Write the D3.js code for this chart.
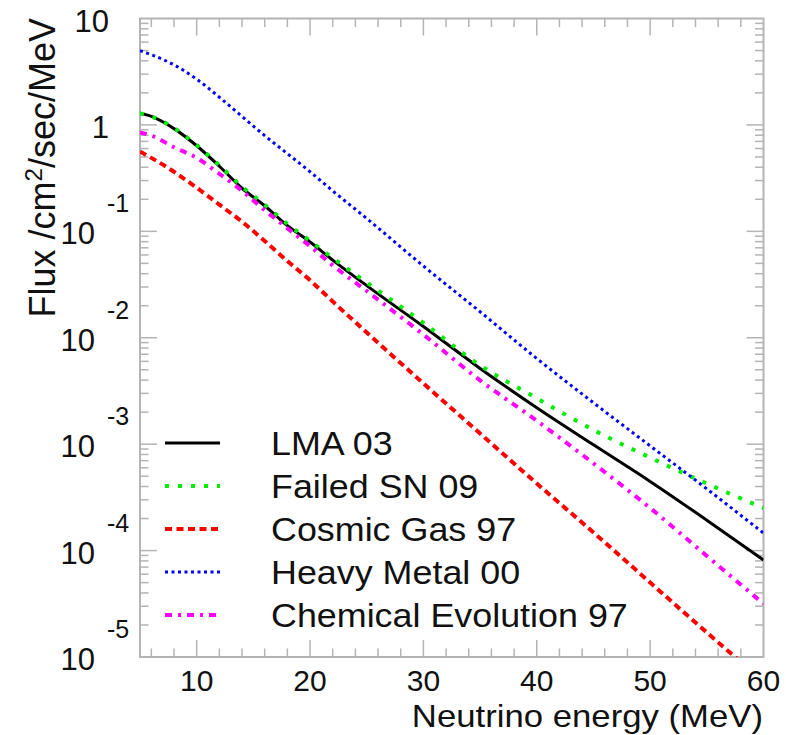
<!DOCTYPE html>
<html>
<head>
<meta charset="utf-8">
<script src="https://cdn.jsdelivr.net/npm/d3@7"></script>
<style>
  body { margin: 0; background: #fff; }
  svg { display: block; }
  text { font-family: "Liberation Sans", Arial, sans-serif; fill: #111; }
</style>
</head>
<body>
<div id="chart"></div>
<script>
// neutrino energy grid (MeV) and fluxes (/cm2/sec/MeV)
const energies = [5, 6, 8, 10, 12, 14, 16, 18, 20, 22, 25, 30, 35, 40, 45, 50, 55, 60];
const lma03 = [1.285, 1.202, 0.923, 0.637, 0.409, 0.254, 0.174, 0.113, 0.0794, 0.0537, 0.0309, 0.01276,
    0.00515, 0.00220, 0.000986, 0.000447, 0.000193, 0.0000815];
const failedSN09 = [1.285, 1.202, 0.933, 0.646, 0.417, 0.263, 0.178, 0.1175, 0.0813, 0.0562, 0.0331, 0.0138,
    0.00550, 0.00270, 0.00136, 0.000748, 0.000426, 0.000251];
const cosmicGas97 = [0.562, 0.490, 0.363, 0.257, 0.178, 0.123, 0.0813, 0.0525, 0.0347, 0.0219, 0.0112, 0.00372,
    0.00126, 0.000427, 0.000148, 0.0000501, 0.0000170, 0.0000059];
const heavyMetal00 = [4.98, 4.57, 3.67, 2.69, 1.82, 1.20, 0.794, 0.537, 0.363, 0.240, 0.132, 0.0472,
    0.01754, 0.00638, 0.00245, 0.000964, 0.000380, 0.000146];
const chemEvol97 = [0.851, 0.794, 0.617, 0.490, 0.347, 0.240, 0.158, 0.107, 0.0724, 0.0479, 0.0275, 0.0107,
    0.00398, 0.00166, 0.00066, 0.000251, 0.0000891, 0.0000316];

const seriesNames = ["LMA 03", "Failed SN 09", "Cosmic Gas 97", "Heavy Metal 00", "Chemical Evolution 97"];
const seriesValues = [lma03, failedSN09, cosmicGas97, heavyMetal00, chemEvol97];

const xTicks = [10, 20, 30, 40, 50, 60];
const yTickExps = [1, 0, -1, -2, -3, -4, -5];

// line styles (ROOT-like)
const styles = [
    {color: "#000000", width: 3, dash: null},
    {color: "#00ee00", width: 4, dash: "4,9"},
    {color: "#ff0000", width: 4, dash: "7,4.5"},
    {color: "#0000ff", width: 3, dash: "3,3.5"},
    {color: "#ff00ff", width: 4, dash: "7,6,3,6"}
];

const W = 786, H = 735;
const frame = {left: 140, top: 18.5, right: 763.5, bottom: 657};

const svg = d3.select("#chart").append("svg")
    .attr("width", W)
    .attr("height", H);

const x = d3.scaleLinear().domain([5, 60]).range([frame.left, frame.right]);
const y = d3.scaleLog().domain([1e-5, 10]).range([frame.bottom, frame.top]);

// clip for curves
svg.append("clipPath").attr("id", "clip")
    .append("rect")
    .attr("x", frame.left).attr("y", frame.top)
    .attr("width", frame.right - frame.left)
    .attr("height", frame.bottom - frame.top);

const axisColor = "#b4b4b4";

// ticks
const ticks = svg.append("g").attr("stroke", axisColor).attr("stroke-width", 1.5);
let xMinor = d3.range(6, 60, 2);
xMinor.forEach(v => {
    let major = v % 10 === 0;
    let len = major ? 17 : 8.5;
    ticks.append("line").attr("x1", x(v)).attr("x2", x(v))
        .attr("y1", frame.bottom).attr("y2", frame.bottom - len);
    ticks.append("line").attr("x1", x(v)).attr("x2", x(v))
        .attr("y1", frame.top).attr("y2", frame.top + len);
});
for (let e = -5; e <= 0; e++) {
    for (let m = 1; m <= 9; m++) {
        let v = m * Math.pow(10, e);
        let len = m === 1 ? 17 : 8.5;
        if (m === 1 && e === -5) continue;
        ticks.append("line").attr("x1", frame.left).attr("x2", frame.left + len)
            .attr("y1", y(v)).attr("y2", y(v));
        ticks.append("line").attr("x1", frame.right).attr("x2", frame.right - len)
            .attr("y1", y(v)).attr("y2", y(v));
    }
}

// frame
svg.append("rect")
    .attr("x", frame.left).attr("y", frame.top)
    .attr("width", frame.right - frame.left)
    .attr("height", frame.bottom - frame.top)
    .attr("fill", "none")
    .attr("stroke", axisColor)
    .attr("stroke-width", 2);

// curves
const line = d3.line()
    .x(d => x(d[0]))
    .y(d => y(d[1]))
    .curve(d3.curveMonotoneX);

const curves = svg.append("g").attr("clip-path", "url(#clip)");
seriesValues.forEach((vals, i) => {
    let pts = energies.map((e, j) => [e, vals[j]]);
    curves.append("path")
        .attr("d", line(pts))
        .attr("fill", "none")
        .attr("stroke", styles[i].color)
        .attr("stroke-width", styles[i].width)
        .attr("stroke-dasharray", styles[i].dash);
});

// x tick labels
svg.append("g").selectAll("text")
    .data(xTicks)
    .join("text")
    .attr("x", d => x(d))
    .attr("y", 691)
    .attr("text-anchor", "middle")
    .attr("font-size", 30)
    .text(d => d);

// y tick labels: 10, 1, 10^-1 ...
const yl = svg.append("g");
yTickExps.forEach(e => {
    let ty = y(Math.pow(10, e));
    if (e === 1) {
        yl.append("text").attr("x", 109).attr("y", ty + 13)
            .attr("text-anchor", "end").attr("font-size", 31).text("10");
    } else if (e === 0) {
        yl.append("text").attr("x", 109).attr("y", ty + 13)
            .attr("text-anchor", "end").attr("font-size", 31).text("1");
    } else {
        yl.append("text").attr("x", 95).attr("y", ty + 13)
            .attr("text-anchor", "end").attr("font-size", 31).text("10");
        yl.append("text").attr("x", 107).attr("y", ty - 19)
            .attr("text-anchor", "start").attr("font-size", 25).text(String(e));
    }
});

// axis titles
svg.append("text")
    .attr("transform", "translate(763,727) scale(1.12,1)")
    .attr("text-anchor", "end")
    .attr("font-size", 31)
    .text("Neutrino energy (MeV)");

const yTitle = svg.append("text")
    .attr("transform", "translate(55,18) rotate(-90)")
    .attr("text-anchor", "end")
    .attr("font-size", 36);
yTitle.append("tspan").text("Flux /cm");
yTitle.append("tspan").attr("dy", -13).attr("font-size", 24).text("2");
yTitle.append("tspan").attr("dy", 13).text("/sec/MeV");

// legend
const legend = svg.append("g");
const rowY = [443, 486, 529, 572, 615];
seriesNames.forEach((name, i) => {
    legend.append("line")
        .attr("x1", 165).attr("x2", 220)
        .attr("y1", rowY[i]).attr("y2", rowY[i])
        .attr("stroke", styles[i].color)
        .attr("stroke-width", styles[i].width)
        .attr("stroke-dasharray", styles[i].dash);
    legend.append("text")
        .attr("transform", "translate(271," + (rowY[i] + 12) + ") scale(1.087,1)")
        .attr("font-size", 33)
        .text(name);
});
</script>
</body>
</html>
